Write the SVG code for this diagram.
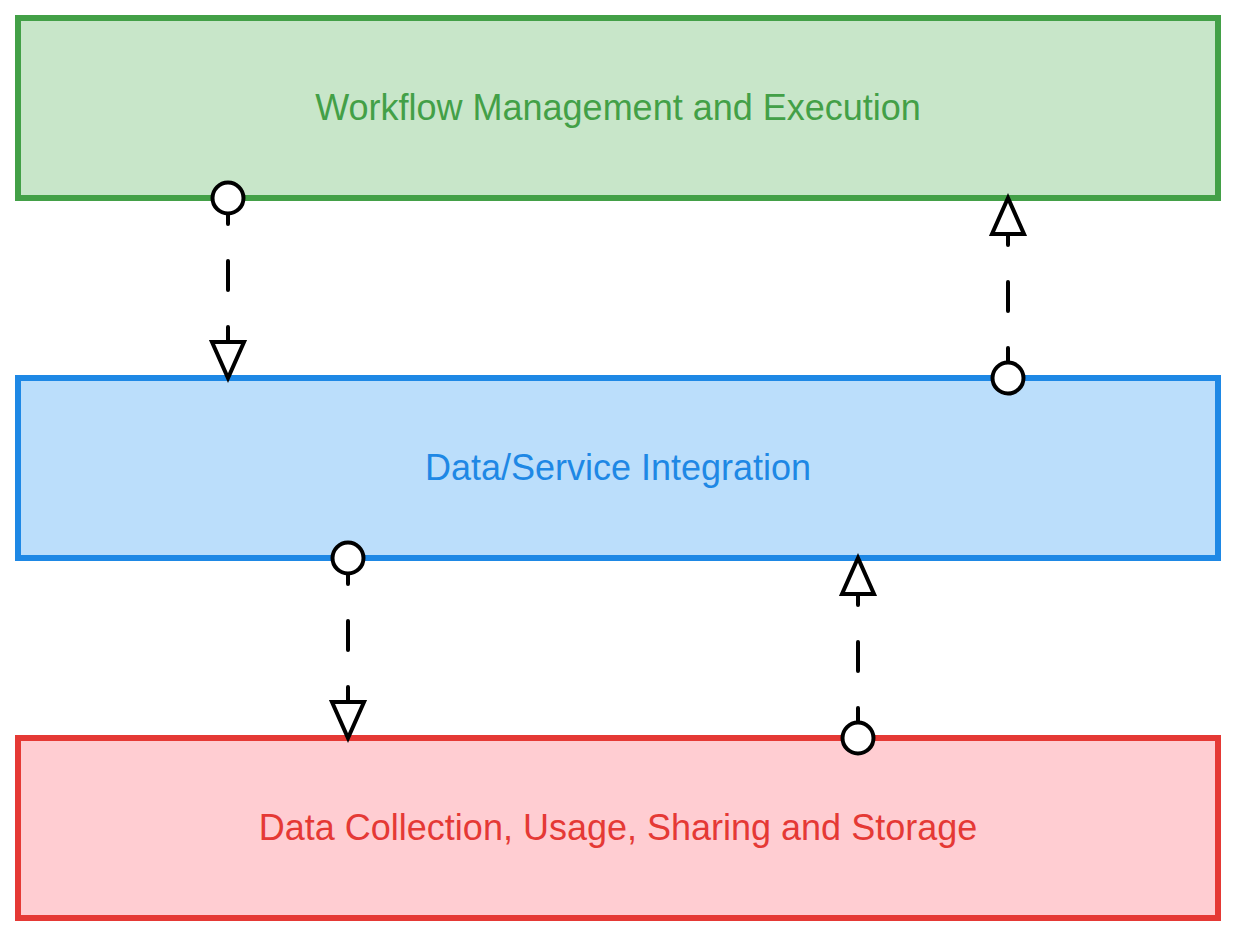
<svg xmlns="http://www.w3.org/2000/svg" width="1236" height="936" viewBox="0 0 1236 936">
<style>
.box{stroke-width:6}
.lbl{font-family:"Liberation Sans",Arial,sans-serif;font-size:36px;text-anchor:middle}
.dash{stroke:#000;stroke-width:4;fill:none;stroke-linecap:round;stroke-dasharray:29 37}
.end{stroke:#000;stroke-width:4;fill:#fff;stroke-linejoin:miter}
</style>
<rect width="1236" height="936" fill="#fff"/>
<g id="workflow">
<rect class="box" x="18" y="18" width="1200" height="180" fill="#C8E6C9" stroke="#43A047"/>
<text class="lbl" x="618" y="119.5" fill="#43A047">Workflow Management and Execution</text>
</g>
<g id="integration">
<rect class="box" x="18" y="378" width="1200" height="180" fill="#BBDEFB" stroke="#1E88E5"/>
<text class="lbl" x="618" y="479.5" fill="#1E88E5">Data/Service Integration</text>
</g>
<g id="collection">
<rect class="box" x="18" y="738" width="1200" height="180" fill="#FFCDD2" stroke="#E53935"/>
<text class="lbl" x="618" y="839.5" fill="#E53935">Data Collection, Usage, Sharing and Storage</text>
</g>
<g id="connectors">
<line class="dash" x1="228" y1="213" x2="228" y2="342" stroke-dashoffset="18"/>
<circle class="end" cx="228" cy="198" r="15.5"/>
<polygon class="end" points="212,342 244,342 228,378"/>
<line class="dash" x1="1008" y1="363" x2="1008" y2="234" stroke-dashoffset="14"/>
<circle class="end" cx="1008" cy="378" r="15.5"/>
<polygon class="end" points="992,234 1024,234 1008,198"/>
<line class="dash" x1="348" y1="573" x2="348" y2="702" stroke-dashoffset="18"/>
<circle class="end" cx="348" cy="558" r="15.5"/>
<polygon class="end" points="332,702 364,702 348,738"/>
<line class="dash" x1="858" y1="723" x2="858" y2="594" stroke-dashoffset="14"/>
<circle class="end" cx="858" cy="738" r="15.5"/>
<polygon class="end" points="842,594 874,594 858,558"/>
</g>
</svg>
